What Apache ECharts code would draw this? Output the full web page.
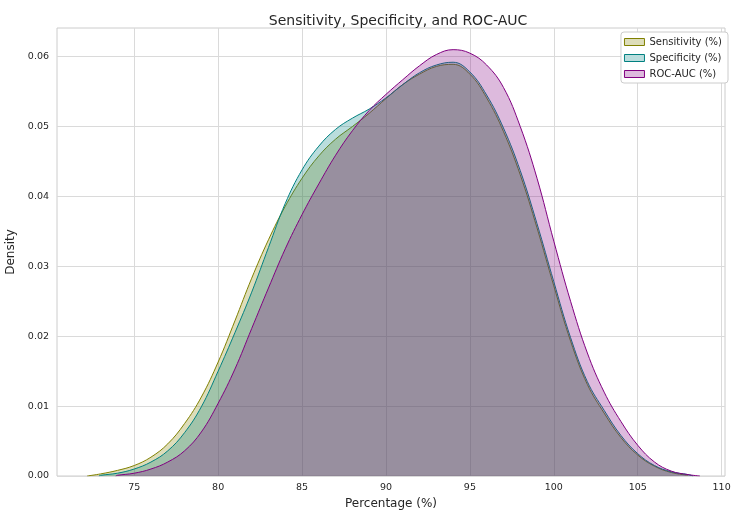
<!DOCTYPE html>
<html>
<head>
<meta charset="utf-8">
<script src="https://cdn.jsdelivr.net/npm/echarts@6/dist/echarts.min.js"></script>
<style>html,body{margin:0;padding:0;background:#fff}#c{width:732px;height:510px}</style>
</head>
<body>
<div id="c"></div>
<script>
// ---- data (KDE curves) ----
const seriesNames = ['Sensitivity (%)', 'Specificity (%)', 'ROC-AUC (%)'];

const sensX = [72.2, 73, 74, 75, 76, 77, 78, 79, 80, 81, 82, 83, 84, 85, 86, 87, 88, 89, 90, 91, 92, 93, 94, 95, 96, 97, 98, 99, 100, 101, 102, 103, 104, 105, 106, 107, 108];
const sensY = [0.0000, 0.0003, 0.0008, 0.0015, 0.0027, 0.0046, 0.0075, 0.0113, 0.0163, 0.0222, 0.0283, 0.0338, 0.0386, 0.0426, 0.0458, 0.0482, 0.0500, 0.0519, 0.0540, 0.0560, 0.0575, 0.0586, 0.0589, 0.0575, 0.0541, 0.0493, 0.0431, 0.0355, 0.0272, 0.0193, 0.0131, 0.0090, 0.0055, 0.0030, 0.0014, 0.0005, 0.0001];

const specX = [72.9, 73, 74, 75, 76, 77, 78, 79, 80, 81, 82, 83, 84, 85, 86, 87, 88, 89, 90, 91, 92, 93, 94, 95, 96, 97, 98, 99, 100, 101, 102, 103, 104, 105, 106, 107, 108, 108.3];
const specY = [0.0000, 0.0001, 0.0004, 0.0010, 0.0020, 0.0036, 0.0062, 0.0099, 0.0150, 0.0205, 0.0263, 0.0327, 0.0390, 0.0438, 0.0472, 0.0496, 0.0512, 0.0525, 0.0541, 0.0560, 0.0577, 0.0588, 0.0592, 0.0578, 0.0545, 0.0498, 0.0437, 0.0361, 0.0278, 0.0198, 0.0135, 0.0094, 0.0058, 0.0032, 0.0015, 0.0006, 0.0002, 0.0000];

const rocX = [73.9, 74, 75, 76, 77, 78, 79, 80, 81, 82, 83, 84, 85, 86, 87, 88, 89, 90, 91, 92, 93, 94, 95, 96, 97, 98, 99, 100, 101, 102, 103, 104, 105, 106, 107, 108, 108.7];
const rocY = [0.0000, 0.0001, 0.0004, 0.0010, 0.0020, 0.0036, 0.0063, 0.0104, 0.0153, 0.0211, 0.0269, 0.0325, 0.0374, 0.0418, 0.0459, 0.0494, 0.0523, 0.0546, 0.0567, 0.0587, 0.0603, 0.0610, 0.0605, 0.0588, 0.0556, 0.0500, 0.0426, 0.0336, 0.0250, 0.0176, 0.0120, 0.0078, 0.0044, 0.0020, 0.0007, 0.0002, 0.0000];

const xTicks = [75, 80, 85, 90, 95, 100, 105, 110];
const yTicks = [0, 0.01, 0.02, 0.03, 0.04, 0.05, 0.06];

// ---- styling ----
const lineColors = ['#808000', '#008080', '#800080'];
const fillColors = ['rgba(128,128,0,0.27)', 'rgba(0,128,128,0.27)', 'rgba(128,0,128,0.27)'];
const textColor = '#262626';
const gridColor = '#dadada';
const font = 'DejaVu Sans';

function pairs(xs, ys) { return xs.map((x, i) => [x, ys[i]]); }
const allData = [pairs(sensX, sensY), pairs(specX, specY), pairs(rocX, rocY)];

const chart = echarts.init(document.getElementById('c'), null, {renderer: 'canvas'});
chart.setOption({
  animation: false,
  backgroundColor: '#fff',
  textStyle: {fontFamily: font, color: textColor},
  title: {
    text: 'Sensitivity, Specificity, and ROC-AUC',
    left: 393, top: 9, textAlign: 'center',
    textStyle: {fontFamily: font, fontSize: 14, fontWeight: 'normal', color: textColor}
  },
  legend: {
    right: 4, top: 32, orient: 'vertical',
    itemWidth: 20, itemHeight: 7, itemGap: 6,
    padding: [5, 6, 4, 3],
    backgroundColor: '#fff', borderColor: '#cccccc', borderWidth: 1, borderRadius: 3,
    icon: 'rect',
    textStyle: {fontFamily: font, fontSize: 10, color: textColor},
    data: seriesNames.map((n, i) => ({
      name: n, icon: 'rect',
      itemStyle: {color: fillColors[i], borderColor: lineColors[i], borderWidth: 1}
    }))
  },
  grid: {left: 57, right: 7, top: 28, bottom: 34, show: true, borderColor: '#cccccc', borderWidth: 1,
    containLabel: false, outerBoundsMode: 'none'},
  xAxis: {
    type: 'value', min: 70.4, max: 110.2,
    name: 'Percentage (%)', nameLocation: 'middle', nameGap: 20,
    nameTextStyle: {fontFamily: font, fontSize: 12, color: textColor},
    axisLine: {show: false},
    axisTick: {show: false, customValues: xTicks},
    axisLabel: {customValues: xTicks, fontFamily: font, fontSize: 9.5, color: textColor, margin: 7,
      formatter: v => String(Math.round(v))},
    splitLine: {show: true, lineStyle: {color: gridColor, width: 1}}
  },
  yAxis: {
    type: 'value', min: 0, max: 0.0641,
    name: 'Density', nameLocation: 'middle', nameGap: 37, nameRotate: 90,
    nameTextStyle: {fontFamily: font, fontSize: 12, color: textColor},
    axisLine: {show: false},
    axisTick: {show: false, customValues: yTicks},
    axisLabel: {customValues: yTicks, fontFamily: font, fontSize: 9.5, color: textColor, margin: 8,
      formatter: v => v.toFixed(2)},
    splitLine: {show: true, lineStyle: {color: gridColor, width: 1}}
  },
  series: seriesNames.map((n, i) => ({
    name: n, type: 'line', data: allData[i],
    smooth: 0.4, showSymbol: false, symbol: 'none',
    lineStyle: {color: lineColors[i], width: 1},
    itemStyle: {color: fillColors[i], borderColor: lineColors[i]},
    areaStyle: {color: fillColors[i], opacity: 1},
    z: 2 + i
  }))
});
</script>
</body>
</html>
